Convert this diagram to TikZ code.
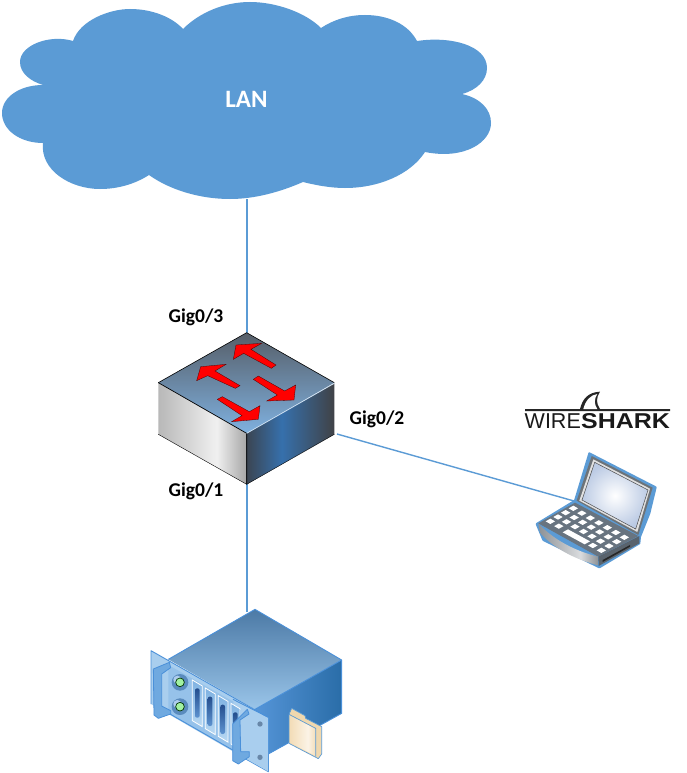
\documentclass[tikz,border=0pt]{standalone}
\usepackage{fontspec}
\usepackage{graphicx}
\setmainfont{Carlito}
\newfontfamily\logofont{Liberation Sans}
\definecolor{swT1}{HTML}{7FB1E0}
\definecolor{swT2}{HTML}{565E68}
\definecolor{gA}{HTML}{B8B8B8}
\definecolor{gB}{HTML}{F0F0F0}
\definecolor{gC}{HTML}{A6A6A6}
\definecolor{rA}{HTML}{3B4552}
\definecolor{rB}{HTML}{3670AC}
\definecolor{rC}{HTML}{404246}
\definecolor{sT1}{HTML}{9AC5E9}
\definecolor{sT2}{HTML}{4C7AA6}
\definecolor{sR1}{HTML}{5595D8}
\definecolor{sR2}{HTML}{2A6DA8}
\definecolor{sl1}{HTML}{B8D8F2}
\definecolor{sl2}{HTML}{7FB2E2}
\definecolor{pl1}{HTML}{5E93D0}
\definecolor{pl2}{HTML}{244E8E}
\definecolor{scr}{HTML}{BCCBE4}
\definecolor{lp1}{HTML}{8C9196}
\definecolor{lp2}{HTML}{DADCDE}
\definecolor{fd1}{HTML}{F3DDB8}
\definecolor{fd2}{HTML}{FBF3E6}
\definecolor{fdside}{HTML}{F0D8AE}
\definecolor{netblue}{HTML}{5B9BD5}
\definecolor{srvedge}{HTML}{4A90D9}
\definecolor{panelblue}{HTML}{A9CEEE}
\definecolor{handleblue}{HTML}{6FA9E0}
\definecolor{lapbase}{HTML}{687480}
\definecolor{lapside}{HTML}{59636D}
\definecolor{lapframe}{HTML}{6D7378}
\pgfdeclareverticalshading{swtop}{100bp}{color(0bp)=(swT1); color(25bp)=(swT1); color(75bp)=(swT2); color(100bp)=(swT2)}
\pgfdeclarehorizontalshading{swleft}{100bp}{color(0bp)=(gA); color(25bp)=(gA); color(58bp)=(gB); color(75bp)=(gC); color(100bp)=(gC)}
\pgfdeclarehorizontalshading{swright}{100bp}{color(0bp)=(rA); color(25bp)=(rA); color(45bp)=(rB); color(75bp)=(rC); color(100bp)=(rC)}
\pgfdeclareverticalshading{srvtop}{100bp}{color(0bp)=(sT1); color(25bp)=(sT1); color(75bp)=(sT2); color(100bp)=(sT2)}
\pgfdeclarehorizontalshading{srvright}{100bp}{color(0bp)=(sR1); color(25bp)=(sR1); color(75bp)=(sR2); color(100bp)=(sR2)}
\pgfdeclareverticalshading{slotshade}{100bp}{color(0bp)=(sl1); color(25bp)=(sl1); color(75bp)=(sl2); color(100bp)=(sl2)}
\pgfdeclareverticalshading{pillshade}{100bp}{color(0bp)=(pl1); color(25bp)=(pl1); color(75bp)=(pl2); color(100bp)=(pl2)}
\pgfdeclareradialshading{screenshade}{\pgfpoint{0bp}{0bp}}{color(0bp)=(white); color(25bp)=(scr); color(50bp)=(scr)}
\pgfdeclarehorizontalshading{lipshade}{100bp}{color(0bp)=(lp1); color(25bp)=(lp1); color(60bp)=(lp2); color(75bp)=(lp1); color(100bp)=(lp1)}
\pgfdeclarehorizontalshading{foldershade}{100bp}{color(0bp)=(fd1); color(25bp)=(fd1); color(60bp)=(fd2); color(75bp)=(fd1); color(100bp)=(fd1)}
\tikzset{
  link/.style={draw=netblue,line width=1.4pt},
  portlabel/.style={font=\bfseries\fontsize{19.5}{22}\selectfont,text=black,inner sep=0pt},
  redarrow/.style={fill=red,draw=black!70!red,line width=0.3pt},
  srvline/.style={draw=srvedge,line width=0.9pt,line join=round},
  lapkey/.style={fill=white},
  zoomcrop/.style={scale=1/3}
}
\begin{document}
\begin{tikzpicture}[x=1pt,y=-1pt]
\useasboundingbox (0,0) rectangle (687,773);
\fill[white] (0,0) rectangle (687,773);
% anchors
\coordinate (cloudfoot) at (247,199);
\coordinate (swtopc) at (247,333);
\coordinate (swbot) at (247,484);
\coordinate (swright) at (337,434);
\coordinate (laphinge) at (574,501);
\coordinate (srvapex) at (247,612);
% connectors
\draw[link] (cloudfoot) -- (swtopc);
\draw[link] (swbot) -- (srvapex);
\draw[link] (swright) -- (laphinge);
% cloud
\fill[netblue] (73,41) .. controls (80,20) and (110,9) .. (130,9)
  .. controls (152,9) and (172,17) .. (183,29)
  .. controls (200,12) and (225,2) .. (250,2)
  .. controls (275,2) and (305,12) .. (321,28)
  .. controls (333,20) and (348,15) .. (365,15)
  .. controls (388,15) and (408,24) .. (417,41)
  .. controls (450,36) and (487,45) .. (487,68)
  .. controls (487,80) and (477,90) .. (462,94)
  .. controls (480,98) and (491,109) .. (491,123)
  .. controls (491,142) and (465,160) .. (425,152)
  .. controls (410,175) and (378,188) .. (345,188)
  .. controls (330,188) and (315,185) .. (303,182)
  .. controls (280,192) and (255,199) .. (230,199)
  .. controls (200,199) and (170,190) .. (149,175)
  .. controls (135,184) and (118,189) .. (100,189)
  .. controls (70,189) and (40,170) .. (43,143)
  .. controls (20,143) and (2,130) .. (2,113)
  .. controls (2,97) and (20,85) .. (43,85)
  .. controls (30,81) and (20,73) .. (20,62)
  .. controls (20,45) and (50,34) .. (73,41) -- cycle;
\node[font=\bfseries\fontsize{25}{28}\selectfont,text=white,inner sep=0pt] (lan) at (246.5,99) {LAN};
% port labels
\node[portlabel] (g3) at (196,317) {Gig0/3};
\node[portlabel] (g2) at (377,419) {Gig0/2};
\node[portlabel] (g1) at (196,491) {Gig0/1};
% switch (zoom 1 coordinates)
\begin{scope}[shift={(150,320)},zoomcrop]
  \path[shading=swleft] (25,188) -- (290,340) -- (290,493) -- (25,343) -- cycle;
  \path[shading=swright] (290,340) -- (553,190) -- (553,343) -- (290,493) -- cycle;
  \path[shading=swtop] (290,38) -- (553,188) -- (290,340) -- (25,188) -- cycle;
  \draw[black,line width=0.6pt] (25,188) -- (290,38);
  \draw[black,line width=0.6pt] (290,38) -- (553,188);
  \draw[black,line width=0.7pt] (25,188) -- (290,340) -- (290,493);
  \draw[white!70!netblue,line width=0.7pt] (290,340) -- (553,190);
  \draw[black,line width=0.4pt] (290,493) -- (25,343);
  \draw[black,line width=0.4pt] (290,493) -- (553,343);
  \path[redarrow] (258,75) -- (335,70) -- (303,88) -- (378,135) -- (364,145) -- (281,100) -- (250,118) -- cycle;
  \path[redarrow] (152,140) -- (228,133) -- (195,153) -- (270,197) -- (256,205) -- (173,167) -- (140,182) -- cycle;
  \path[redarrow] (432,240) -- (350,243) -- (382,225) -- (310,178) -- (325,168) -- (404,213) -- (437,195) -- cycle;
  \path[redarrow] (325,298) -- (245,305) -- (276,287) -- (202,238) -- (217,230) -- (298,275) -- (330,257) -- cycle;
\end{scope}
% wireshark logo (zoom 6 coordinates)
\begin{scope}[shift={(520,385)},zoomcrop]
  \fill[black!85] (15,72) -- (180,72) .. controls (188,40) and (205,22) .. (240,20)
     .. controls (228,38) and (228,55) .. (240,72) -- (450,72) -- (450,78) -- (15,78) -- cycle;
  \fill[white] (190,72) .. controls (197,45) and (212,30) .. (232,27)
     .. controls (222,42) and (222,58) .. (232,72) -- cycle;
\end{scope}
\node[anchor=base west,inner sep=0pt,font=\logofont\fontsize{21.5}{24}\selectfont,text=black!90] (wire) at (524.5,428.5) {WIRE};
\node[anchor=base west,inner sep=0pt,font=\logofont\bfseries\fontsize{21.5}{24}\selectfont,text=black!90] (shark) at (581,428.5) {\scalebox{1.16}[1]{SHARK}};
% laptop (zoom 2 coordinates)
\begin{scope}[shift={(510,380)},zoomcrop]
  \fill[netblue,draw=netblue,line width=2pt,line join=round] (238,220) -- (437,322) -- (418,400) -- (390,470) -- (388,490) -- (268,562) -- (100,480) -- (80,432) -- (195,362) -- cycle;
  \fill[lapframe,line join=round] (245,228) -- (428,323) -- (385,465) -- (200,362) -- cycle;
  \fill[black!12] (250,238) -- (420,326) -- (382,456) -- (208,362) -- cycle;
  \path[shading=screenshade] (254,247) -- (414,330) -- (377,447) -- (216,360) -- cycle;
  \draw[black!70,line width=0.5pt] (254,247) -- (414,330) -- (377,447) -- (216,360) -- cycle;
  \fill[lapbase] (195,368) -- (385,468) -- (265,530) -- (85,430) -- cycle;
  \path[shading=lipshade] (85,430) .. controls (130,480) and (200,515) .. (265,530) -- (265,556) .. controls (200,540) and (130,505) .. (90,458) -- cycle;
  \fill[lapside] (265,530) -- (388,468) -- (388,490) -- (266,558) -- cycle;
  \fill[black!85] (278,540) -- (360,495) -- (360,500) -- (278,546) -- cycle;
  \foreach \j in {0,...,3}{
    \foreach \i in {0,...,6}{
      \pgfmathsetmacro{\kx}{190+25.5*\i-23*\j}
      \pgfmathsetmacro{\ky}{385+14.5*\i+13*\j}
      \ifnum\j=3
        \ifnum\i>1 \ifnum\i<5 \def\kx{-100} \fi\fi
      \fi
      \pgfmathparse{\kx>0 ? 1 : 0}
      \ifnum\pgfmathresult=1
        \fill[lapkey] (\kx-14,\ky) -- (\kx,\ky-8) -- (\kx+14,\ky) -- (\kx,\ky+8) -- cycle;
      \fi
    }
  }
  \fill[lapkey] (158,457) -- (174,448) -- (240,484) -- (224,493) -- cycle;
\end{scope}
% server (zoom 3 coordinates)
\begin{scope}[shift={(140,600)},zoomcrop]
  \path[shading=srvright] (345,328) -- (605,180) -- (605,340) -- (385,462) -- (345,440) -- cycle;
  \draw[srvline] (605,180) -- (605,340) -- (385,462);
  \path[shading=srvtop] (345,28) -- (605,180) -- (345,328) -- (85,178) -- cycle;
  \draw[srvline] (85,178) -- (345,28) -- (605,180) -- (345,328);
  % folder
  \fill[fdside,draw=netblue,line width=0.7pt,line join=round] (455,325) -- (495,347) -- (497,355) -- (545,380) -- (545,462) -- (535,476) -- (447,430) -- (447,343) -- cycle;
  \path[shading=foldershade] (450,345) -- (527,387) -- (527,468) -- (450,428) -- cycle;
  \draw[netblue,line width=0.7pt] (447,343) -- (527,385) -- (527,470);
  % front panel
  \fill[panelblue] (33,152) -- (385,352) -- (385,515) -- (275,452) -- (33,312) -- cycle;
  \fill[panelblue!80!srvedge] (85,195) -- (280,305) -- (280,450) -- (85,340) -- cycle;
  \draw[srvline] (33,312) -- (33,152) -- (385,352) -- (385,515) -- (278,455);
  \draw[srvline] (90,342) -- (278,450);
  % LEDs
  \foreach \ly in {247,320}{
    \fill[srvedge!70!gray] (120,\ly) circle (25);
    \fill[srvedge!45!white] (112,\ly-8) circle (12);
    \filldraw[fill=green!35!white!90!gray,draw=black!80!green,line width=0.7pt] (120,\ly) circle (13);
  }
  % slots
  \foreach \xa/\xb/\ya in {157/187/240,196/226/264,235/264/287,273/300/310}{
    \pgfmathsetmacro{\yb}{\ya+(\xb-\xa)*0.6}
    \pgfmathsetmacro{\yc}{\yb+122}
    \pgfmathsetmacro{\yd}{\ya+122}
    \path[shading=slotshade] (\xa,\ya) -- (\xb,\yb) -- (\xb,\yc) -- (\xa,\yd) -- cycle;
    \draw[white,line width=0.8pt] (\xa,\ya) -- (\xb,\yb) -- (\xb,\yc) -- (\xa,\yd) -- cycle;
  }
  \foreach \px/\py in {172/265,210/290,248/314,286/337}{
    \path[rounded corners=2pt,shading=pillshade] (\px-7,\py) rectangle (\px+7,\py+88);
  }
  % right part of panel over last slot
  \fill[panelblue] (300,330) -- (384,353) -- (384,514) -- (300,466) -- cycle;
  \draw[srvline] (279,298) -- (385,352);
  % handles
  \filldraw[fill=handleblue,draw=srvedge,line width=0.8pt,line join=round] (40,207) -- (88,187) -- (92,203) -- (65,222) -- (65,318) -- (92,332) -- (92,342) -- (55,355) -- (42,345) -- cycle;
  \filldraw[fill=handleblue,draw=srvedge,line width=0.8pt,line join=round] (278,372) -- (322,328) -- (327,342) -- (300,360) -- (302,455) -- (328,455) -- (328,470) -- (295,492) -- (278,482) -- cycle;
  % screws
  \fill[srvedge!45!gray] (360,372) circle (8);
  \fill[srvedge!45!gray] (360,472) circle (8);
\end{scope}
\end{tikzpicture}
\end{document}
